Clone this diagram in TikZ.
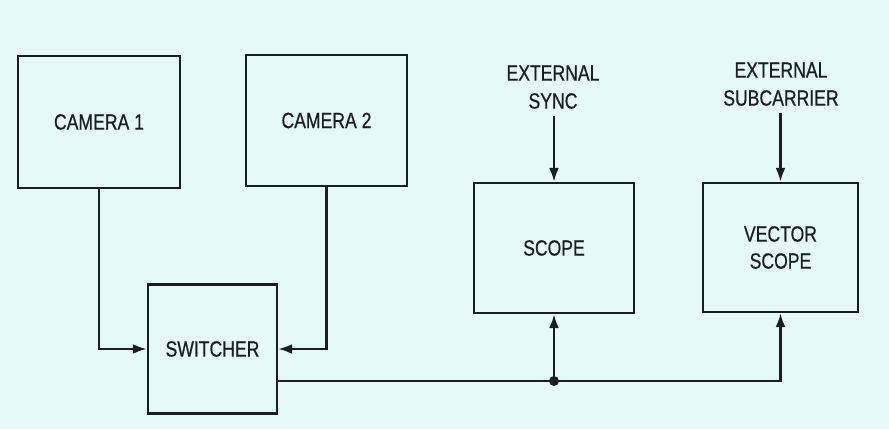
\documentclass[tikz,border=0pt]{standalone}
\usepackage{fontspec}
\setmainfont{Liberation Sans}[FakeStretch=0.8,FakeBold=0.6]
\usetikzlibrary{arrows.meta}
\definecolor{bg}{RGB}{230,248,250}
\definecolor{ink}{RGB}{25,30,35}
\begin{document}
\begin{tikzpicture}[x=1pt,y=-1pt,
  box/.style={draw=ink,line width=2.4pt,rectangle,inner sep=0pt,align=center,font=\fontsize{22}{27}\selectfont,text=ink},
  lbl/.style={align=center,font=\fontsize{22}{28}\selectfont,text=ink,inner sep=0pt},
  conn/.style={draw=ink,line width=2.4pt},
  arr/.style={conn,-{Latex[length=14pt,width=10pt]}}]
\fill[bg] (0,0) rectangle (889,429);
\useasboundingbox (0,0) rectangle (889,429);
\node[box,minimum width=162pt,minimum height=132pt] (cam1) at (99,122) {CAMERA 1};
\node[box,minimum width=161pt,minimum height=131pt] (cam2) at (326.5,120.5) {CAMERA 2};
\node[box,minimum width=129pt,minimum height=129pt] (sw) at (212.5,349) {SWITCHER};
\node[box,minimum width=160pt,minimum height=130pt] (scope) at (554,248) {SCOPE};
\node[box,minimum width=155pt,minimum height=129pt] (vs) at (780.5,247.5) {VECTOR\\SCOPE};
\node[lbl,anchor=south] (es) at (553,109) {EXTERNAL\\SYNC};
\node[lbl,anchor=south] (esc) at (781,106) {EXTERNAL\\SUBCARRIER};
\coordinate (j) at (554,381);
\draw[arr] (cam1.south) |- (sw.west);
\draw[arr] (cam2.south) |- (sw.east);
\draw[conn] (sw.east |- j) -- (j);
\draw[arr] (j) -- (scope.south);
\draw[arr] (j) -| (vs.south);
\draw[arr] (es.south -| scope.north) ++(0,7) -- (scope.north);
\draw[arr] (esc.south -| vs.north) ++(0,7) -- (vs.north);
\fill[ink] (j) circle (5pt);
\end{tikzpicture}
\end{document}
